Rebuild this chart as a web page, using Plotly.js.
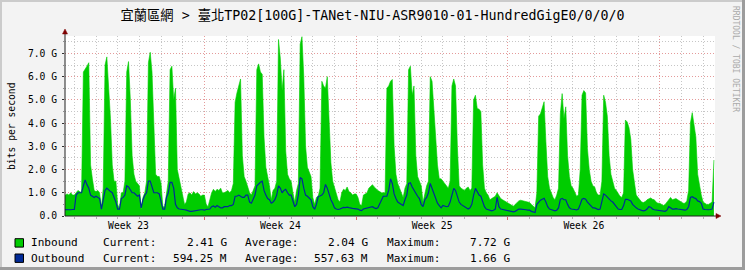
<!DOCTYPE html>
<html><head><meta charset="utf-8">
<script src="https://cdn.plot.ly/plotly-3.0.1.min.js"></script>
<style>html,body{margin:0;padding:0;background:#f3f3f3;}#chart{width:745px;height:270px;}</style>
</head><body><div id="chart"></div>
<script>
const titleText = '宜蘭區網 > 臺北TP02[100G]-TANet-NIU-ASR9010-01-HundredGigE0/0/0/0';
const yAxisTitle = 'bits per second';
const weekLabels = ['Week 23', 'Week 24', 'Week 25', 'Week 26'];
const weekLabelDays = [-3.5, 3.5, 10.5, 17.5];
const weekStartDays = [0, 7, 14, 21];
const dayLines = [-6,-5,-4,-3,-2,-1,1,2,3,4,5,6,8,9,10,11,12,13,15,16,17,18,19,20,22,23];
const yTickVals = [0, 1, 2, 3, 4, 5, 6, 7];
const yTickText = ['0.0', '1.0 G', '2.0 G', '3.0 G', '4.0 G', '5.0 G', '6.0 G', '7.0 G'];
const yMinorVals = [0.5, 1.5, 2.5, 3.5, 4.5, 5.5, 6.5, 7.5];

// samples every 2 hours, first sample = day -7 12:00 (days counted from the Week 24 boundary)
const firstSampleDay = -6.5;
const sampleHours = 2;

// Inbound, Gbit/s
const inboundG = [
  [0.85, 0.9, 0.95, 0.9, 1.0, 0.9],
  [0.9, 1.0, 1.1, 1.05, 1.0, 6.2, 6.3, 6.45, 6.6, 2.2, 1.6, 1.1],
  [1.05, 1.1, 1.0, 0.35, 1.2, 6.5, 6.85, 5.7, 4.2, 2.2, 1.5, 1.5],
  [0.5, 0.3, 1.0, 1.0, 1.5, 6.2, 6.65, 5.0, 2.6, 1.8, 1.5, 1.4],
  [1.3, 0.3, 0.8, 1.0, 1.5, 6.6, 7.05, 6.2, 3.5, 1.8, 1.7, 1.7],
  [1.4, 0.4, 0.4, 1.0, 1.5, 6.3, 6.45, 5.0, 5.5, 2.0, 1.6, 1.3],
  [0.9, 0.5, 0.6, 0.95, 1.0, 0.9, 1.05, 0.95, 1.0, 0.95, 0.85, 0.9],
  [0.9, 0.5, 0.4, 0.7, 1.0, 1.15, 1.05, 1.15, 1.1, 1.2, 1.0, 1.0],
  [1.05, 1.1, 1.0, 1.1, 1.4, 4.9, 5.3, 5.6, 5.9, 2.6, 1.7, 1.5],
  [1.2, 1.0, 0.9, 1.1, 1.3, 6.3, 6.55, 6.2, 6.1, 3.4, 2.1, 1.7],
  [1.3, 0.7, 1.1, 1.2, 1.5, 7.6, 6.8, 5.4, 6.3, 2.8, 1.8, 1.6],
  [1.5, 1.0, 0.6, 1.1, 1.4, 7.4, 7.72, 6.0, 3.0, 2.1, 1.9, 1.7],
  [0.8, 0.5, 0.8, 0.85, 1.2, 5.8, 5.6, 5.5, 6.0, 4.0, 2.3, 1.5],
  [1.2, 1.0, 0.7, 0.6, 1.0, 1.15, 1.1, 1.25, 1.05, 1.0, 0.9, 0.95],
  [0.95, 0.8, 0.5, 0.45, 0.9, 0.95, 1.0, 1.2, 1.3, 1.35, 1.25, 1.15],
  [1.1, 1.05, 1.0, 1.0, 1.0, 5.5, 5.6, 5.8, 5.88, 3.0, 1.8, 1.4],
  [1.2, 1.0, 0.8, 1.2, 1.4, 6.3, 6.45, 5.2, 5.6, 2.6, 1.7, 1.5],
  [1.3, 0.6, 1.0, 1.3, 1.5, 6.0, 5.8, 4.6, 3.2, 2.2, 1.6, 1.6],
  [1.5, 1.4, 1.25, 1.2, 1.5, 5.6, 5.9, 5.6, 3.0, 1.3, 1.2, 1.15],
  [1.1, 1.2, 1.25, 1.1, 1.2, 5.0, 5.2, 4.63, 4.6, 4.5, 2.2, 1.2],
  [1.0, 0.9, 0.7, 0.75, 0.8, 0.85, 1.0, 0.85, 0.75, 0.7, 0.65, 0.6],
  [0.55, 0.5, 0.45, 0.42, 0.5, 0.6, 0.65, 0.68, 0.66, 0.62, 0.6, 0.58],
  [0.58, 0.5, 0.4, 0.35, 1.0, 4.3, 4.4, 4.7, 4.92, 3.2, 1.7, 1.2],
  [1.0, 0.8, 0.7, 0.9, 1.2, 4.4, 5.27, 4.2, 4.7, 2.6, 1.7, 1.3],
  [1.2, 1.0, 0.85, 0.9, 2.0, 5.2, 5.4, 5.3, 2.9, 2.0, 1.5, 1.3],
  [1.25, 1.0, 0.9, 0.9, 1.5, 5.2, 4.9, 4.3, 2.6, 1.8, 1.5, 1.2],
  [1.1, 0.95, 0.85, 0.8, 1.0, 4.13, 4.05, 3.8, 3.3, 2.0, 1.4, 0.9],
  [0.8, 0.7, 0.6, 0.58, 0.62, 0.7, 0.75, 0.78, 0.72, 0.7, 0.6, 0.55],
  [0.55, 0.5, 0.45, 0.5, 0.6, 0.75, 0.8, 0.7, 0.72, 0.75, 0.7, 0.65],
  [0.62, 0.55, 0.55, 0.65, 1.1, 4.0, 4.45, 4.0, 3.4, 1.8, 1.3, 0.9],
  [0.6, 0.55, 0.5, 0.5, 0.55, 0.6, 2.41]
];

// Outbound, Gbit/s
const outboundG = [
  [0.28, 0.27, 0.28, 0.28, 0.27, 0.28],
  [0.28, 0.9, 1.0, 1.0, 1.0, 1.3, 1.55, 1.35, 1.2, 0.9, 0.85, 0.8],
  [0.85, 0.8, 0.75, 0.3, 0.7, 1.1, 1.2, 1.1, 1.05, 1.0, 0.8, 0.6],
  [0.3, 0.3, 0.75, 0.8, 0.9, 1.3, 1.25, 1.1, 1.0, 1.0, 0.9, 0.85],
  [0.9, 0.35, 0.7, 0.9, 1.0, 1.5, 1.5, 1.25, 1.0, 1.0, 1.0, 0.95],
  [0.6, 0.3, 0.3, 0.8, 1.0, 1.45, 1.45, 1.2, 0.5, 0.35, 0.3, 0.3],
  [0.3, 0.27, 0.25, 0.22, 0.2, 0.2, 0.22, 0.22, 0.25, 0.25, 0.27, 0.27],
  [0.25, 0.28, 0.3, 0.3, 0.4, 0.43, 0.38, 0.45, 0.4, 0.35, 0.35, 0.4],
  [0.4, 0.4, 0.45, 0.45, 0.5, 0.85, 0.85, 0.9, 0.85, 0.8, 0.8, 0.9],
  [0.9, 0.6, 0.55, 0.75, 0.9, 1.3, 1.4, 1.45, 1.5, 1.1, 0.9, 0.75],
  [0.7, 0.55, 0.6, 0.7, 0.9, 1.3, 1.2, 1.0, 1.1, 1.15, 1.0, 0.9],
  [0.9, 0.6, 0.4, 0.5, 0.9, 1.66, 1.6, 1.2, 0.9, 0.85, 0.75, 0.7],
  [0.4, 0.29, 0.5, 0.85, 0.86, 0.9, 1.0, 1.36, 1.2, 0.9, 0.7, 0.55],
  [0.35, 0.3, 0.28, 0.3, 0.35, 0.37, 0.36, 0.38, 0.36, 0.36, 0.33, 0.32],
  [0.32, 0.3, 0.25, 0.23, 0.3, 0.32, 0.33, 0.35, 0.38, 0.4, 0.35, 0.32],
  [0.35, 0.5, 0.7, 0.85, 0.85, 0.85, 1.1, 1.6, 1.4, 0.95, 0.75, 0.6],
  [0.55, 0.5, 0.45, 0.7, 0.9, 1.4, 1.43, 1.25, 1.1, 0.95, 0.85, 0.75],
  [0.5, 0.4, 0.7, 0.8, 1.0, 1.4, 1.2, 1.0, 0.8, 0.55, 0.45, 0.35],
  [0.45, 0.42, 0.4, 0.42, 0.6, 0.9, 1.19, 1.1, 0.8, 0.6, 0.5, 0.45],
  [0.4, 0.35, 0.3, 0.35, 0.5, 0.9, 1.19, 1.05, 0.9, 0.85, 0.6, 0.4],
  [0.3, 0.28, 0.25, 0.22, 0.25, 0.3, 0.8, 0.4, 0.3, 0.28, 0.28, 0.27],
  [0.25, 0.22, 0.2, 0.18, 0.2, 0.25, 0.3, 0.3, 0.3, 0.28, 0.27, 0.25],
  [0.25, 0.2, 0.18, 0.15, 0.5, 0.6, 0.68, 0.72, 0.76, 0.6, 0.4, 0.3],
  [0.28, 0.25, 0.22, 0.25, 0.35, 0.72, 0.76, 0.7, 0.7, 0.5, 0.35, 0.3],
  [0.3, 0.28, 0.26, 0.3, 0.5, 0.72, 0.76, 0.72, 0.6, 0.5, 0.4, 0.35],
  [0.35, 0.3, 0.28, 0.3, 0.6, 0.95, 0.9, 0.8, 0.7, 0.65, 0.6, 0.5],
  [0.35, 0.3, 0.28, 0.28, 0.45, 0.72, 0.72, 0.7, 0.65, 0.5, 0.4, 0.35],
  [0.3, 0.26, 0.24, 0.22, 0.24, 0.3, 0.4, 0.38, 0.3, 0.27, 0.26, 0.25],
  [0.24, 0.22, 0.2, 0.2, 0.25, 0.4, 0.35, 0.3, 0.3, 0.32, 0.3, 0.28],
  [0.28, 0.26, 0.25, 0.28, 0.4, 0.8, 0.83, 0.78, 0.75, 0.65, 0.62, 0.55],
  [0.3, 0.28, 0.26, 0.27, 0.28, 0.3, 0.594]
];

const legendNames = ['Inbound', 'Outbound'];
const legendColors = ['#00cc00', '#002a97'];
const currentText = ['2.41 G', '594.25 M'];
const averageText = ['2.04 G', '557.63 M'];
const maximumText = ['7.72 G', '1.66 G'];

const inFlat = inboundG.flat();
const outFlat = outboundG.flat();
const xs = inFlat.map((_, i) => firstSampleDay + i * sampleHours / 24);

const MONO = 'DejaVu Sans Mono, Noto Sans CJK TC, monospace';
const XR = [-6.43, 23.55];
// pixel -> paper helpers (plot area 65..715 x 36..216)
const PX = p => (p - 65) / 650;
const PY = p => (216 - p) / 180;

const traces = [
  {type: 'scatter', mode: 'lines', x: xs, y: inFlat, fill: 'tozeroy',
   fillcolor: '#00cc00', line: {color: '#00cc00', width: 0.6}, hoverinfo: 'skip'},
  {type: 'scatter', mode: 'lines', x: xs, y: outFlat, xaxis: 'x2',
   line: {color: '#002a97', width: 1.2}, hoverinfo: 'skip'}
];

const shapes = [];
const annotations = [];
// frame shading
shapes.push({type:'rect', xref:'paper', yref:'paper', x0:PX(742), x1:PX(745), y0:PY(0), y1:PY(270), fillcolor:'#9c9c9c', line:{width:0}, layer:'above'});
shapes.push({type:'rect', xref:'paper', yref:'paper', x0:PX(0), x1:PX(745), y0:PY(267), y1:PY(270), fillcolor:'#9c9c9c', line:{width:0}, layer:'above'});
shapes.push({type:'rect', xref:'paper', yref:'paper', x0:PX(0), x1:PX(2), y0:PY(0), y1:PY(267), fillcolor:'#cbcbcb', line:{width:0}, layer:'above'});
shapes.push({type:'rect', xref:'paper', yref:'paper', x0:PX(0), x1:PX(742), y0:PY(0), y1:PY(2), fillcolor:'#cbcbcb', line:{width:0}, layer:'above'});
// axes lines
shapes.push({type:'line', xref:'paper', yref:'paper', x0:PX(65), x1:PX(717), y0:PY(216), y1:PY(216), line:{color:'#202020', width:1}, layer:'above'});
shapes.push({type:'line', xref:'paper', yref:'paper', x0:PX(65), x1:PX(65), y0:PY(216), y1:PY(33), line:{color:'#202020', width:1}, layer:'above'});
// arrows
shapes.push({type:'path', xref:'paper', yref:'paper', path:`M ${PX(716)} ${PY(213.5)} L ${PX(721)} ${PY(216)} L ${PX(716)} ${PY(218.5)} Z`, fillcolor:'#7f0000', line:{color:'#7f0000', width:0.5}, layer:'above'});
shapes.push({type:'path', xref:'paper', yref:'paper', path:`M ${PX(62.5)} ${PY(34)} L ${PX(65)} ${PY(29)} L ${PX(67.5)} ${PY(34)} Z`, fillcolor:'#7f0000', line:{color:'#7f0000', width:0.5}, layer:'above'});

// legend
const rowY = [242.9, 258.2];
for (let r = 0; r < 2; r++) {
  shapes.push({type:'rect', xref:'paper', yref:'paper', x0:PX(15), x1:PX(23.5), y0:PY(rowY[r]-4.2), y1:PY(rowY[r]+4.2), fillcolor:legendColors[r], line:{color:'#000', width:1}, layer:'above'});
  const f = {family: MONO, size: 11.1, color: '#000'};
  const ann = (t, x, xa) => annotations.push({xref:'paper', yref:'paper', x:PX(x), y:PY(rowY[r]), text:t, showarrow:false, xanchor:xa, yanchor:'middle', font:f, borderpad:0});
  ann(legendNames[r], 30, 'left');
  ann('Current:', 102, 'left');
  ann(currentText[r], 227.5, 'right');
  ann('Average:', 244, 'left');
  ann(averageText[r], 369, 'right');
  ann('Maximum:', 385.5, 'left');
  ann(maximumText[r], 511, 'right');
}
annotations.push({xref:'paper', yref:'paper', x:PX(11), y:PY(126), text:yAxisTitle, textangle:-90, showarrow:false, xanchor:'center', yanchor:'middle', font:{family:MONO, size:9.7, color:'#000'}});
annotations.push({xref:'paper', yref:'paper', x:PX(736), y:PY(59), text:'RRDTOOL / TOBI OETIKER', textangle:90, showarrow:false, xanchor:'center', yanchor:'middle', font:{family:MONO, size:8, color:'#aaaaaa'}});

const gridGray = '#c6c6c6';
const gridRed = '#e49a9a';
const layout = {
  width: 745, height: 270,
  paper_bgcolor: '#f3f3f3', plot_bgcolor: '#ffffff',
  margin: {l: 65, r: 30, t: 36, b: 54, pad: 0},
  showlegend: false,
  title: {text: titleText, font: {family: MONO, size: 13.3, color: '#000'}, x: 0.5, xanchor: 'center', y: 1 - 15/270, yanchor: 'middle'},
  xaxis: {
    range: XR, fixedrange: true, zeroline: false, showline: false,
    tickmode: 'array', tickvals: weekStartDays, showticklabels: false,
    showgrid: true, gridcolor: gridRed, griddash: '1px,2px', gridwidth: 1,
    ticks: 'outside', ticklen: 3, tickcolor: '#e06060', tickwidth: 1,
    minor: {tickmode: 'array', tickvals: dayLines, showgrid: true, gridcolor: gridGray, griddash: '1px,2px', gridwidth: 1,
            ticks: 'outside', ticklen: 2, tickcolor: '#b0b0b0', tickwidth: 1}
  },
  xaxis2: {
    overlaying: 'x', anchor: 'y', side: 'bottom', range: XR, fixedrange: true,
    tickmode: 'array', tickvals: weekLabelDays, ticktext: weekLabels,
    ticks: '', showgrid: false, zeroline: false, showline: false, ticklabelstandoff: 2,
    tickfont: {family: MONO, size: 9.7, color: '#000'}
  },
  yaxis: {
    range: [0, 7.75], fixedrange: true, zeroline: false, showline: false,
    tickmode: 'array', tickvals: yTickVals, ticktext: yTickText,
    showgrid: true, gridcolor: gridRed, griddash: '1px,2px', gridwidth: 1,
    ticks: 'outside', ticklen: 2, tickcolor: '#303030', tickwidth: 1, ticklabelstandoff: 3,
    tickfont: {family: MONO, size: 9.7, color: '#000'},
    minor: {tickmode: 'array', tickvals: yMinorVals, showgrid: true, gridcolor: gridGray, griddash: '1px,2px', gridwidth: 1,
            ticks: 'outside', ticklen: 1, tickcolor: '#909090'}
  },
  shapes: shapes,
  annotations: annotations
};

Plotly.newPlot('chart', traces, layout, {staticPlot: true, displayModeBar: false});
</script></body></html>
